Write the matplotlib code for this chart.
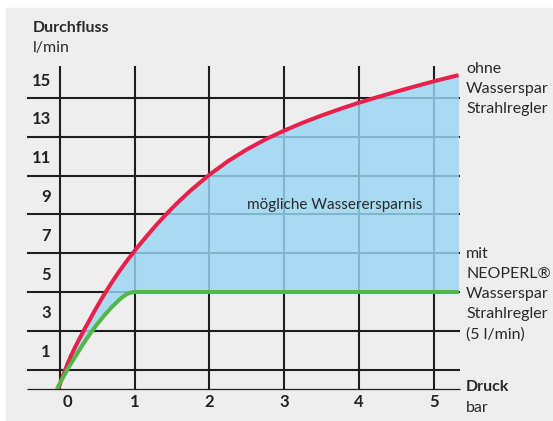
import matplotlib.pyplot as plt
from matplotlib.patches import Rectangle
import numpy as np

plt.rcParams['font.family'] = ['Lato', 'DejaVu Sans']

# Druck in bar / Durchfluss in l/min
druck_ohne = [-0.02, 0.0, 0.05, 0.1, 0.15, 0.2, 0.25, 0.3, 0.35, 0.4, 0.45, 0.5, 0.55,
              0.6, 0.7, 0.8, 0.9, 1.0, 1.1, 1.2, 1.3, 1.4, 1.5, 1.6, 1.75, 2.0, 2.25,
              2.5, 2.75, 3.0, 3.25, 3.5, 3.75, 4.0, 4.25, 4.5, 4.75, 5.0, 5.33]
fluss_ohne = [0.0, 0.25, 0.78, 1.27, 1.72, 2.13, 2.51, 2.87, 3.23, 3.58, 3.93, 4.27, 4.6,
              4.92, 5.53, 6.1, 6.63, 7.13, 7.6, 8.06, 8.5, 8.92, 9.32, 9.7, 10.24, 11.05,
              11.75, 12.35, 12.87, 13.32, 13.73, 14.1, 14.44, 14.76, 15.05, 15.33, 15.6,
              15.86, 16.18]

druck_mit = [-0.04, 0.0, 0.05, 0.1, 0.15, 0.2, 0.3, 0.4, 0.5, 0.6, 0.7, 0.8, 0.85,
             0.9, 0.95, 1.0, 5.33]
fluss_mit = [0.0, 0.3, 0.65, 1.0, 1.32, 1.63, 2.25, 2.83, 3.35, 3.82, 4.25, 4.62, 4.78,
             4.9, 4.97, 5.0, 5.0]

x_ticks = [0, 1, 2, 3, 4, 5]
x_labels = ['0', '1', '2', '3', '4', '5']
y_ticks = [1, 3, 5, 7, 9, 11, 13, 15]
y_labels = ['1', '3', '5', '7', '9', '11', '13', '15']

fig = plt.figure(figsize=(5.53, 4.21), dpi=100)
fig.patches.append(Rectangle((6 / 553, 0), 546 / 553, 413 / 421,
                             transform=fig.transFigure, color='#eeeeee', zorder=-10))

ax = fig.add_axes([27 / 553, 32 / 421, 433 / 553, 323 / 421])
ax.set_facecolor('none')
ax.set_xlim(-0.44, 5.35)
ax.set_ylim(0, 16.65)
ax.axis('off')

# Gitter
ax.hlines(y_ticks, -0.44, 5.35, color='#1e1e1e', lw=1.5, zorder=1, clip_on=False)
ax.vlines(x_ticks, 0, 16.65, color='#1e1e1e', lw=1.5, zorder=1, clip_on=False)
ax.hlines([0], -0.44, 5.35, color='#1e1e1e', lw=0.9, zorder=1, clip_on=False)

# Fläche zwischen den Kurven
xs = np.array(druck_ohne[1:])
lower = np.interp(xs, druck_mit, fluss_mit)
ax.fill_between(xs, lower, fluss_ohne[1:], color='#99d6f3', alpha=0.82, lw=0, zorder=2)

ax.plot(druck_ohne, fluss_ohne, color='#e8204b', lw=2.9, zorder=3,
        solid_capstyle='butt', solid_joinstyle='round')
ax.plot(druck_mit, fluss_mit, color='#52b748', lw=2.9, zorder=4,
        solid_capstyle='butt', solid_joinstyle='round')

ax.text(3.68, 9.5, 'mögliche Wasserersparnis', fontsize=11, color='#2a2a2a',
        ha='center', va='center', zorder=5)

for xt, lab in zip(x_ticks, x_labels):
    ax.text(xt + (0.1 if xt == 0 else 0), -0.67, lab, fontsize=12, fontweight='bold',
            color='#222222', ha='center', va='center', clip_on=False)
for yt, lab in zip(y_ticks, y_labels):
    ax.text(-0.12, yt + 0.9, lab, fontsize=12, fontweight='bold', color='#222222',
            ha='right', va='center', clip_on=False)

tc = '#2a2a2a'
fig.text(33 / 553, 1 - 28 / 421, 'Durchfluss', fontsize=11.5, fontweight='bold',
         color=tc, ha='left', va='center')
fig.text(33 / 553, 1 - 48 / 421, 'l/min', fontsize=11.5, color=tc, ha='left', va='center')
fig.text(466 / 553, 1 - 89 / 421, 'ohne\nWasserspar\nStrahlregler', fontsize=11.5,
         color=tc, ha='left', va='center', linespacing=1.56)
fig.text(466 / 553, 1 - 294.5 / 421, 'mit\nNEOPERL®\nWasserspar\nStrahlregler\n(5 l/min)',
         fontsize=11.5, color=tc, ha='left', va='center', linespacing=1.56)
fig.text(466 / 553, 1 - 387 / 421, 'Druck', fontsize=11.5, fontweight='bold',
         color=tc, ha='left', va='center')
fig.text(466 / 553, 1 - 408 / 421, 'bar', fontsize=11.5, color=tc, ha='left', va='center')

fig.savefig('out.png', dpi=100)
